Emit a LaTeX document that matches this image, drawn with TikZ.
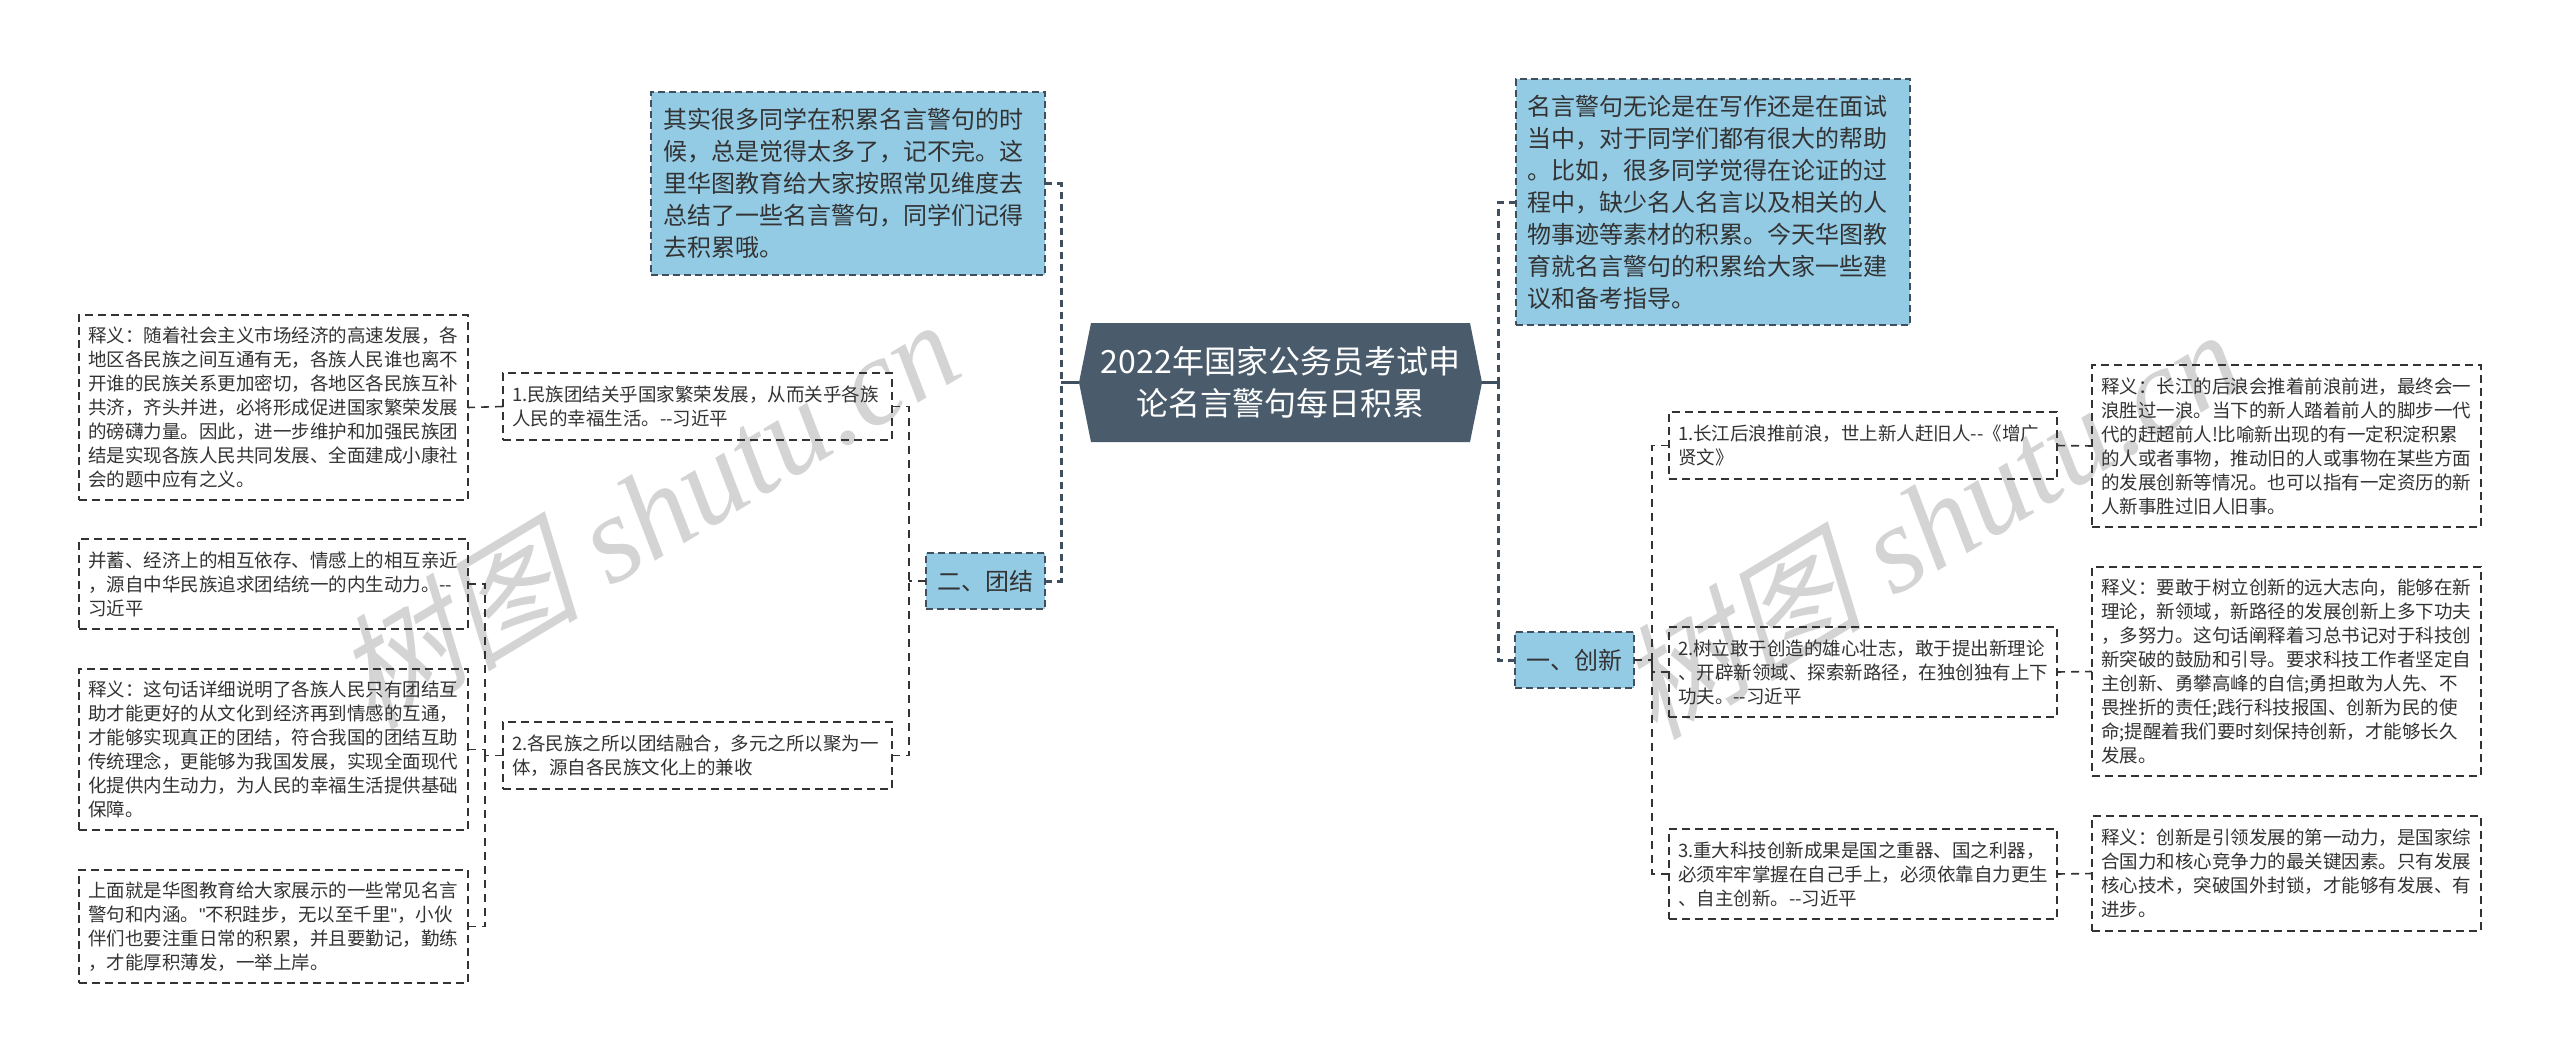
\documentclass[tikz,border=0pt]{standalone}
\usepackage{fontspec}
\setmainfont{Noto Sans CJK SC}
\newfontfamily\wmcjk[FakeSlant=0.25]{Noto Sans CJK SC}
\newfontfamily\wmlat{Liberation Serif}[ItalicFont=* Italic]
\newfontfamily\plainquote[Ligatures=NoCommon]{Liberation Sans}
\usetikzlibrary{backgrounds}
\definecolor{bluefill}{HTML}{93CAE4}
\definecolor{slatefill}{HTML}{4A5C6C}
\definecolor{slateline}{HTML}{3F4F5E}
\definecolor{inkline}{HTML}{333333}
\definecolor{inktext}{HTML}{333333}
\definecolor{marktext}{HTML}{D4D4D4}
\newcommand{\straightq}{{\plainquote\char34\relax}}
\tikzset{
  anybox/.style={anchor=north west,inner sep=0pt,align=left,outer sep=0pt},
  detailbox/.style={anybox,draw=inkline,line width=1.6pt,dash pattern=on 8pt off 5pt,text=inktext,font=\fontsize{18.5}{24}\selectfont},
  bluebox/.style={anybox,fill=bluefill,draw=slateline,line width=2pt,dash pattern=on 7pt off 4pt,text=black!80,font=\fontsize{24}{32}\selectfont},
  toplabel/.style={anybox,fill=bluefill,draw=slateline,line width=2pt,dash pattern=on 7pt off 4pt,text=black!80,align=center,font=\fontsize{24}{32}\selectfont},
  link/.style={draw=inkline,line width=1.6pt,dash pattern=on 8pt off 6pt},
  mainlink/.style={draw=slateline,line width=3pt,dash pattern=on 7pt off 5pt},
  mainstub/.style={draw=slateline,line width=3pt},
  watermark/.style={text=marktext,rotate=31,inner sep=0pt}
}
\begin{document}
\begin{tikzpicture}[x=1pt,y=1pt]
\useasboundingbox (0,0) rectangle (2560,-1063);
% central topic
\node[minimum width=403pt,minimum height=119pt,inner sep=0pt,outer sep=0pt,align=center,text=white,font=\fontsize{32}{42}\selectfont] (center) at (1280.5,-382.5) {2022年国家公务员考试申\\论名言警句每日积累};
\begin{scope}[on background layer]
\fill[white] (0,0) rectangle (2560,-1063);
\node[watermark] (wmleft) at (645,-512) {\fontsize{124}{124}\selectfont\wmcjk 树图\wmlat\itshape\ shutu.cn};
\node[watermark] (wmright) at (1928,-522) {\fontsize{124}{124}\selectfont\wmcjk 树图\wmlat\itshape\ shutu.cn};
\fill[slatefill] (center.west) -- (center.north west -| 1091,0) -- (center.north east -| 1470,0) -- (center.east) -- (center.south east -| 1470,0) -- (center.south west -| 1091,0) -- cycle;
\end{scope}
% top-level boxes
\node[bluebox,minimum width=394pt,minimum height=183pt,text width=370pt] (tl) at (651,-92) {其实很多同学在积累名言警句的时\\候，总是觉得太多了，记不完。这\\里华图教育给大家按照常见维度去\\总结了一些名言警句，同学们记得\\去积累哦。};
\node[bluebox,minimum width=394pt,minimum height=246pt,text width=370pt] (tr) at (1515.5,-79) {名言警句无论是在写作还是在面试\\当中，对于同学们都有很大的帮助\\。比如，很多同学觉得在论证的过\\程中，缺少名人名言以及相关的人\\物事迹等素材的积累。今天华图教\\育就名言警句的积累给大家一些建\\议和备考指导。};
\node[toplabel,minimum width=119pt,minimum height=56pt] (el) at (926,-553) {二、团结};
\node[toplabel,minimum width=119pt,minimum height=56pt] (cx) at (1515,-632) {一、创新};
% left second level
\node[detailbox,minimum width=389pt,minimum height=67pt,text width=371pt] (la) at (503,-373) {1.民族团结关乎国家繁荣发展，从而关乎各族\\人民的幸福生活。-{}-习近平};
\node[detailbox,minimum width=389pt,minimum height=67pt,text width=371pt] (lb) at (503,-722) {2.各民族之所以团结融合，多元之所以聚为一\\体，源自各民族文化上的兼收};
% left details
\node[detailbox,minimum width=389pt,minimum height=185pt,text width=371pt] (da) at (79,-315) {释义：随着社会主义市场经济的高速发展，各\\地区各民族之间互通有无，各族人民谁也离不\\开谁的民族关系更加密切，各地区各民族互补\\共济，齐头并进，必将形成促进国家繁荣发展\\的磅礴力量。因此，进一步维护和加强民族团\\结是实现各族人民共同发展、全面建成小康社\\会的题中应有之义。};
\node[detailbox,minimum width=389pt,minimum height=90pt,text width=371pt] (db) at (79,-539) {并蓄、经济上的相互依存、情感上的相互亲近\\，源自中华民族追求团结统一的内生动力。-{}-\\习近平};
\node[detailbox,minimum width=389pt,minimum height=161pt,text width=371pt] (dc) at (79,-669) {释义：这句话详细说明了各族人民只有团结互\\助才能更好的从文化到经济再到情感的互通，\\才能够实现真正的团结，符合我国的团结互助\\传统理念，更能够为我国发展，实现全面现代\\化提供内生动力，为人民的幸福生活提供基础\\保障。};
\node[detailbox,minimum width=389pt,minimum height=113pt,text width=371pt] (dd) at (79,-870) {上面就是华图教育给大家展示的一些常见名言\\警句和内涵。\straightq 不积跬步，无以至千里\straightq ，小伙\\伴们也要注重日常的积累，并且要勤记，勤练\\，才能厚积薄发，一举上岸。};
% right second level
\node[detailbox,minimum width=388pt,minimum height=67pt,text width=370pt] (ra) at (1669,-412) {1.长江后浪推前浪，世上新人赶旧人-{}-《增广\\贤文》};
\node[detailbox,minimum width=388pt,minimum height=90pt,text width=370pt] (rb) at (1669,-627) {2.树立敢于创造的雄心壮志，敢于提出新理论\\、开辟新领域、探索新路径，在独创独有上下\\功夫。-{}-习近平};
\node[detailbox,minimum width=388pt,minimum height=90pt,text width=370pt] (rc) at (1669,-829) {3.重大科技创新成果是国之重器、国之利器，\\必须牢牢掌握在自己手上，必须依靠自力更生\\、自主创新。-{}-习近平};
% right details
\node[detailbox,minimum width=389pt,minimum height=162pt,text width=371pt] (ea) at (2092,-365) {释义：长江的后浪会推着前浪前进，最终会一\\浪胜过一浪。当下的新人踏着前人的脚步一代\\代的赶超前人!比喻新出现的有一定积淀积累\\的人或者事物，推动旧的人或事物在某些方面\\的发展创新等情况。也可以指有一定资历的新\\人新事胜过旧人旧事。};
\node[detailbox,minimum width=389pt,minimum height=209pt,text width=371pt] (eb) at (2092,-567) {释义：要敢于树立创新的远大志向，能够在新\\理论，新领域，新路径的发展创新上多下功夫\\，多努力。这句话阐释着习总书记对于科技创\\新突破的鼓励和引导。要求科技工作者坚定自\\主创新、勇攀高峰的自信;勇担敢为人先、不\\畏挫折的责任;践行科技报国、创新为民的使\\命;提醒着我们要时刻保持创新，才能够长久\\发展。};
\node[detailbox,minimum width=389pt,minimum height=115pt,text width=371pt] (ec) at (2092,-816) {释义：创新是引领发展的第一动力，是国家综\\合国力和核心竞争力的最关键因素。只有发展\\核心技术，突破国外封锁，才能够有发展、有\\进步。};
% junction points
\coordinate (mainleft) at (1061,-382.5);
\coordinate (mainright) at (1498,-382.5);
\coordinate (sideleft) at (909,-581);
\coordinate (sideright) at (1652,-660);
\coordinate (detailleft) at (485,-755.5);
% connectors
\draw[mainstub] (center.west) -- (mainleft);
\draw[mainstub] (center.east) -- (mainright);
\draw[mainlink] (tl.east) -| (mainleft);
\draw[mainlink] (el.east) -| (mainleft);
\draw[mainlink] (tr.west) -| (mainright);
\draw[mainlink] (cx.west) -| (mainright);
\draw[link] (el.west) -- (sideleft);
\draw[link] (la.east) -| (sideleft);
\draw[link] (lb.east) -| (sideleft);
\draw[link] (la.west) -- (da.east);
\draw[link] (lb.west) -- (detailleft);
\draw[link] (db.east) -| (detailleft);
\draw[link] (dc.east) -| (detailleft);
\draw[link] (dd.east) -| (detailleft);
\draw[link] (cx.east) -- (sideright);
\draw[link] (ra.west) -| (sideright);
\draw[link] (rb.west) -| (sideright);
\draw[link] (rc.west) -| (sideright);
\draw[link] (ra.east) -- (ea.west);
\draw[link] (rb.east) -- (eb.west);
\draw[link] (rc.east) -- (ec.west);
\end{tikzpicture}
\end{document}
